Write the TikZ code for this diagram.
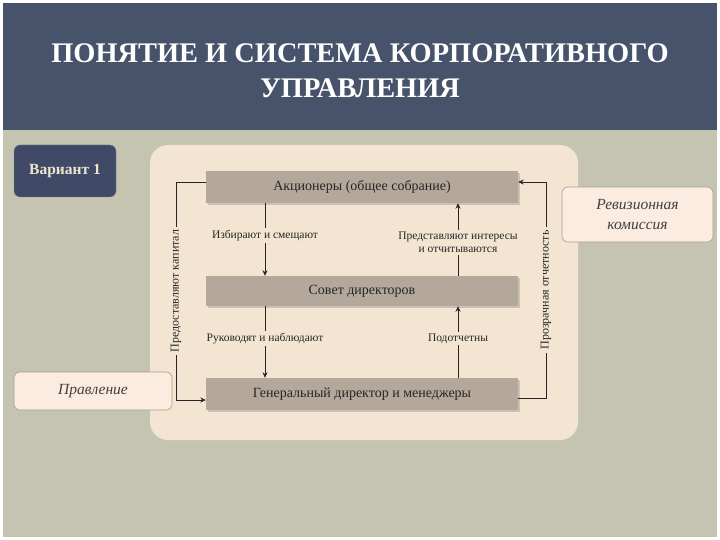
\documentclass[tikz,border=0pt]{standalone}
\usepackage{fontspec}
\setmainfont{Liberation Serif}
\usetikzlibrary{arrows.meta,shadows}
\definecolor{hdr}{HTML}{46536A}
\definecolor{bgc}{HTML}{C4C4B1}
\definecolor{panel}{HTML}{F3E5D1}
\definecolor{gbox}{HTML}{B4A89B}
\definecolor{vbox}{HTML}{404A66}
\definecolor{sbox}{HTML}{FCEBDF}
\definecolor{sline}{HTML}{A89C90}
\definecolor{vtxt}{HTML}{EDE6CF}
\tikzset{
  mainbox/.style={fill=gbox, minimum width=312pt, inner sep=0pt, font=\fontsize{14}{16}\selectfont, text=black!85,
    drop shadow={opacity=0.35, shadow xshift=2pt, shadow yshift=-2pt}},
  sidebox/.style={fill=sbox, draw=sline, line width=0.6pt, rounded corners=6pt, inner sep=0pt, align=center,
    font=\fontsize{15.5}{19}\selectfont\itshape, text=black!75},
  lbl/.style={fill=panel, inner sep=2pt, align=center, font=\fontsize{11.5}{13.5}\selectfont, text=black!85},
  vlbl/.style={fill=panel, inner sep=3pt, rotate=90, font=\fontsize{12}{14}\selectfont, text=black!85},
  conn/.style={line width=0.7pt, black!85},
  arr/.style={conn, -{Stealth[length=5.5pt,width=5pt]}},
}
\begin{document}
\begin{tikzpicture}[x=1pt,y=-1pt]
\useasboundingbox (0,0) rectangle (720,540);
\fill[white] (0,0) rectangle (720,540);
\fill[bgc] (3,3) rectangle (717,537);
\fill[hdr] (3,3) rectangle (717,130);
\node[text=white, font=\fontsize{28.4}{35}\selectfont\bfseries, align=center] (title) at (360,71)
  {ПОНЯТИЕ И СИСТЕМА КОРПОРАТИВНОГО\\УПРАВЛЕНИЯ};
\fill[panel, rounded corners=18pt] (150,145) rectangle (578,440);
\node[fill=vbox, draw=vbox!70!white, rounded corners=6pt, minimum width=102pt, minimum height=52pt, inner sep=0pt,
  text=vtxt, font=\fontsize{15.5}{18}\selectfont\bfseries] (var) at (65,171) {Вариант 1};
\node[mainbox, minimum height=32pt] (akc) at (362,187) {Акционеры (общее собрание)};
\node[mainbox, minimum height=30pt] (sov) at (362,291) {Совет директоров};
\node[mainbox, minimum height=32pt] (gen) at (362,394) {Генеральный директор и менеджеры};
\node[sidebox, minimum width=151pt, minimum height=55pt] (rev) at (637.5,214.5) {Ревизионная\\[1pt]комиссия};
\node[sidebox, minimum width=158pt, minimum height=38pt] (pra) at (93,391) {Правление};
% vertical connectors
\draw[arr] (akc.south -| 265,0) -- (sov.north -| 265,0) node[pos=0.5, lbl, yshift=4pt] (l1) {Избирают и смещают};
\draw[arr] (sov.north -| 458,0) -- (akc.south -| 458,0) node[pos=0.5, lbl, yshift=-3pt] (l2) {Представляют интересы\\и отчитываются};
\draw[arr] (sov.south -| 265,0) -- (gen.north -| 265,0) node[pos=0.45, lbl] (l3) {Руководят и наблюдают};
\draw[arr] (gen.north -| 458,0) -- (sov.south -| 458,0) node[pos=0.55, lbl] (l4) {Подотчетны};
% side loops
\coordinate (la) at (176,182);
\coordinate (lb) at (176,400);
\coordinate (ra) at (546,182);
\coordinate (rb) at (546,398);
\draw[arr] (akc.west |- la) -- (la) -- (lb) node[pos=0.5, vlbl] (vl) {Предоставляют капитал} -- (gen.west |- lb);
\draw[arr] (gen.east |- rb) -- (rb) -- (ra) node[pos=0.5, vlbl] (vr) {Прозрачная отчетность} -- (akc.east |- ra);
\end{tikzpicture}
\end{document}
